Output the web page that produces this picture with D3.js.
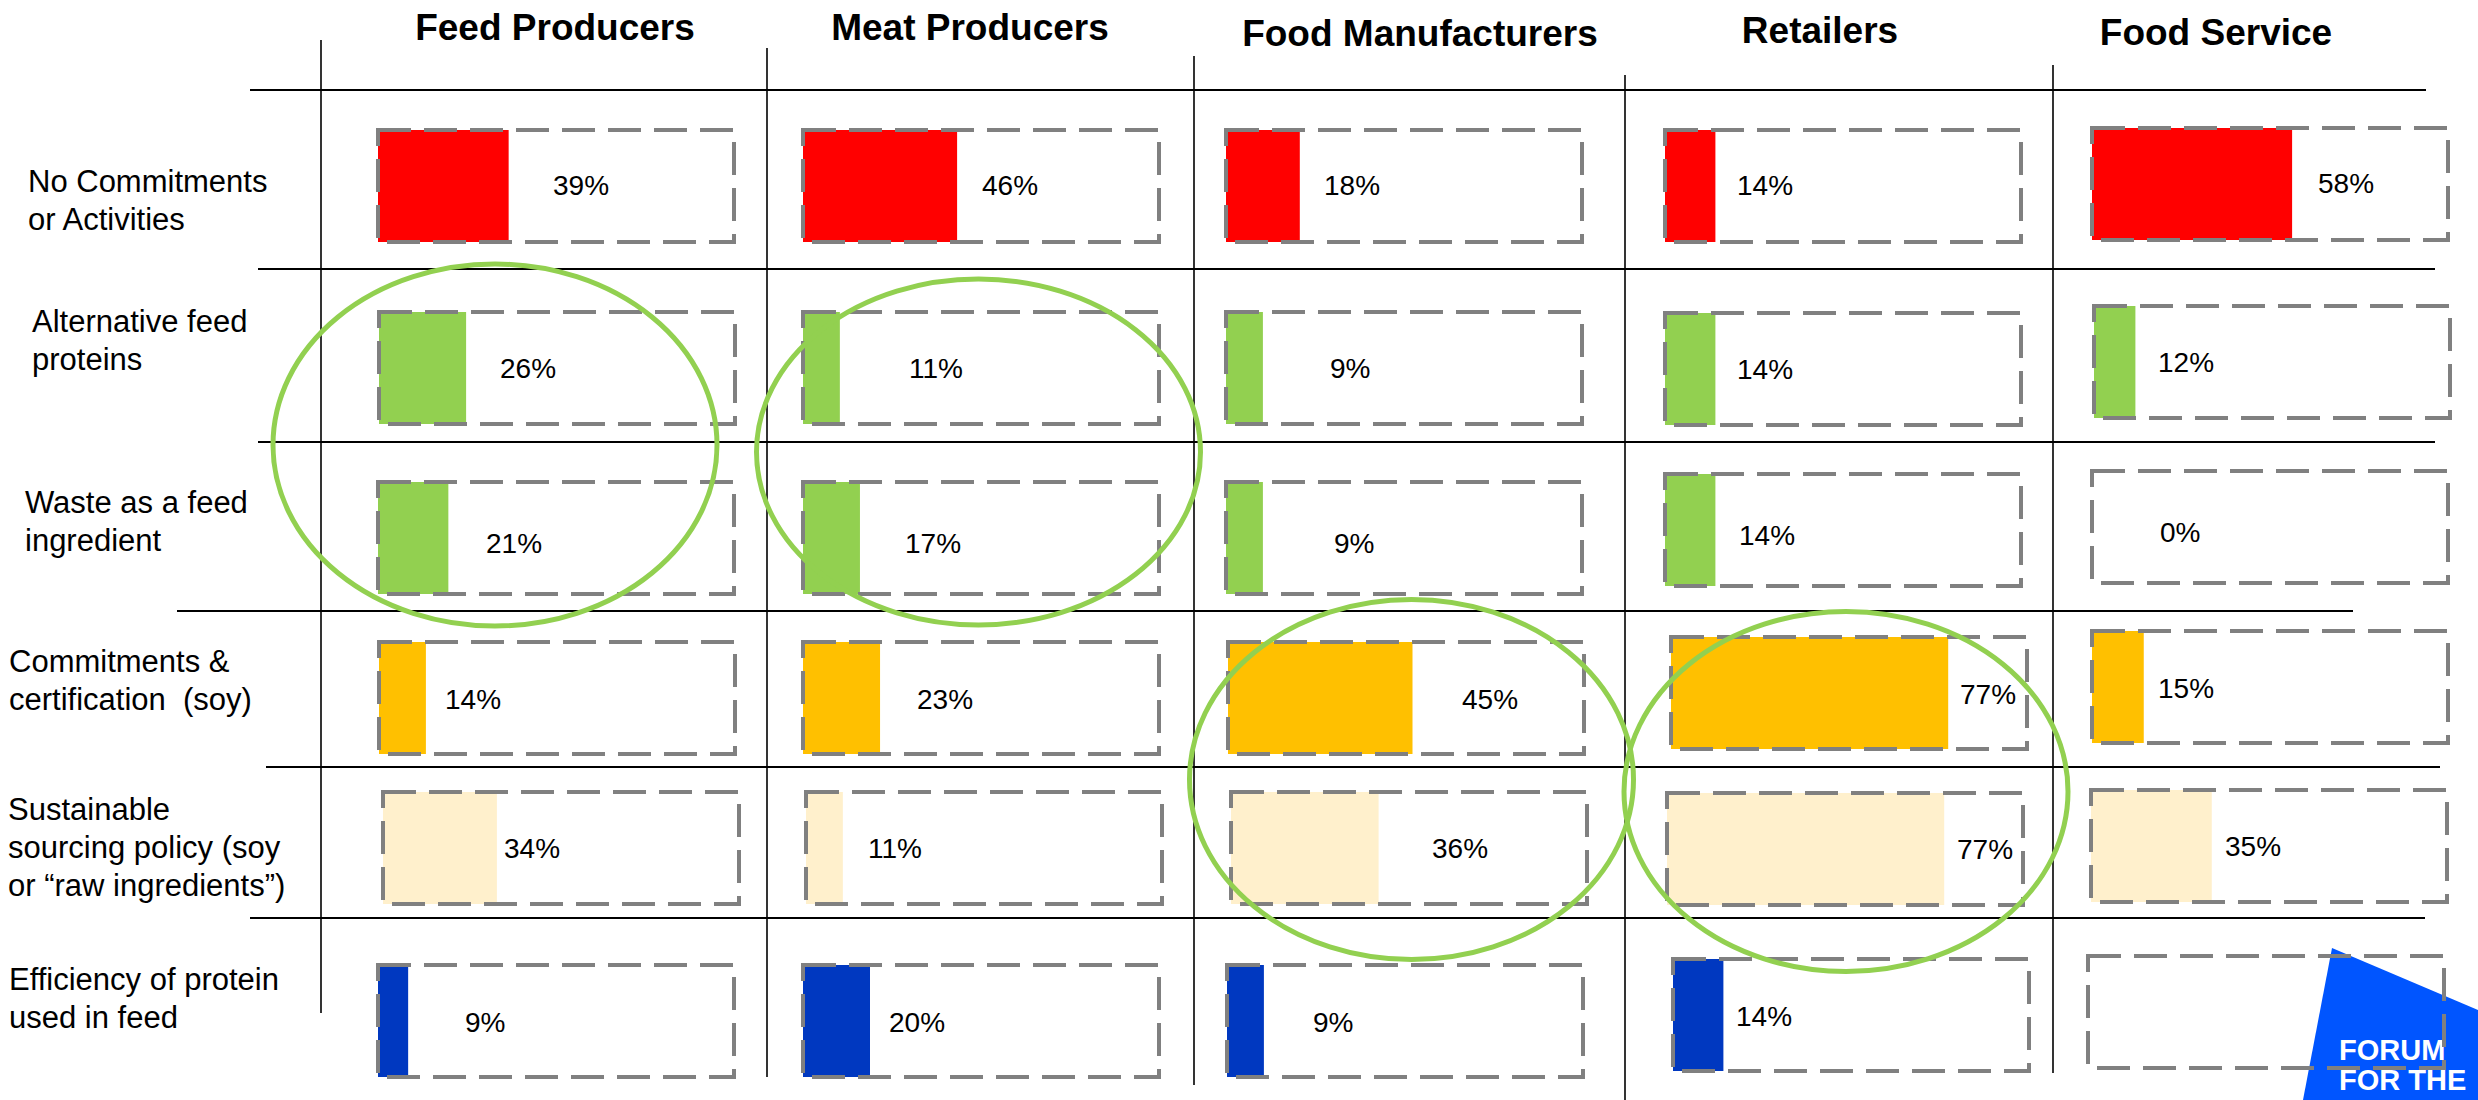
<!DOCTYPE html>
<html>
<head>
<meta charset="utf-8">
<script src="https://cdn.jsdelivr.net/npm/d3@7"></script>
<style>
  html, body { margin: 0; padding: 0; background: #fff; }
  svg { display: block; font-family: Arial, "Liberation Sans", sans-serif; }
</style>
</head>
<body>
<svg width="2478" height="1100"></svg>
<script>
// columns
const groups = ['Feed Producers', 'Meat Producers', 'Food Manufacturers', 'Retailers', 'Food Service'];
// row labels, already split into lines
const measures = [
  ['No Commitments', 'or Activities'],
  ['Alternative feed', 'proteins'],
  ['Waste as a feed', 'ingredient'],
  ['Commitments &', 'certification  (soy)'],
  ['Sustainable', 'sourcing policy (soy', 'or \u201craw ingredients\u201d)'],
  ['Efficiency of protein', 'used in feed']
];
// share of companies (%), one array per row in column order
const noCommitments = [39, 46, 18, 14, 58];
const altFeedProteins = [26, 11, 9, 14, 12];
const wasteAsFeed = [21, 17, 9, 14, 0];
const soyCommitments = [14, 23, 45, 77, 15];
const sourcingPolicy = [34, 11, 36, 77, 35];
const proteinEfficiency = [9, 20, 9, 14, null];
const values = [noCommitments, altFeedProteins, wasteAsFeed, soyCommitments, sourcingPolicy, proteinEfficiency];
// circled cells: [column, first row, last row]
const highlights = [[0, 1, 2], [1, 1, 2], [2, 3, 4], [3, 3, 4]];

// ---- layout / style ----
const barColors = ['#ff0000', '#92d050', '#92d050', '#ffc000', '#fff0cc', '#0038c0'];

const colX = [321, 767, 1194, 1625, 2053];
const colTop = [40, 48, 56, 75, 65];
const colBottom = [1013, 1077, 1085, 1100, 1073];
const rowY = [90, 269, 442, 611, 767, 918];
const rowX1 = [250, 258, 258, 177, 266, 250];
const rowX2 = [2426, 2435, 2435, 2353, 2440, 2425];

const headX = [555, 970, 1420, 1820, 2216];
const headY = [40, 40, 46, 43, 45];
const labelX = [28, 32, 25, 9, 8, 9];
const labelY = [192, 332, 513, 672, 820, 990];

const boxX = [378, 803, 1226, 1666, 2091];
const boxTop = [130, 312, 482, 642, 792, 965];
const boxW = 356, boxH = 112;
const boxDx = [
  [0, 0, 0, -1, 1],
  [1, 0, 0, -1, 3],
  [0, 0, 0, -1, 1],
  [1, 0, 2, 5, 1],
  [5, 3, 5, 1, 0],
  [0, 0, 1, 7, -3]
];
const boxDy = [
  [0, 0, 0, 0, -2],
  [0, 0, 0, 1, -6],
  [0, 0, 0, -8, -11],
  [0, 0, 0, -5, -11],
  [0, 0, 0, 1, -2],
  [0, 0, 0, -6, -9]
];
const barSpan = [335, 335, 410, 360, 345];
const pctDx = [
  [175, 179, 98, 71, 227],
  [122, 106, 104, 71, 67],
  [108, 102, 108, 73, 69],
  [67, 114, 236, 294, 67],
  [126, 65, 206, 291, 134],
  [87, 86, 87, 70, 0]
];
const pctDy = [65, 66, 71, 67, 66, 67];
const ellDx = [-49, -2, 2, 7];
const ellDy = [5, 12, 15, 27];
const ellRy = [181, 173, 180, 180];
const ellRx = 222;

const svg = d3.select('svg');

// logo (under the boxes)
const logo = svg.append('g');
logo.append('path')
  .attr('d', 'M2332,948L2478,1010L2478,1100L2303,1100Z')
  .attr('fill', '#0055ff');
logo.selectAll('text')
  .data(['FORUM', 'FOR THE'])
  .join('text')
  .attr('x', 2339)
  .attr('y', (d, i) => 1060 + i * 30)
  .attr('fill', '#fff')
  .attr('font-weight', 'bold')
  .attr('font-size', 29)
  .text(d => d);

// grid rules
svg.append('g').selectAll('line')
  .data(rowY)
  .join('line')
  .attr('x1', (d, i) => rowX1[i])
  .attr('x2', (d, i) => rowX2[i])
  .attr('y1', d => d)
  .attr('y2', d => d)
  .attr('stroke', '#000')
  .attr('stroke-width', 2.2);

svg.append('g').selectAll('line')
  .data(colX)
  .join('line')
  .attr('x1', d => d)
  .attr('x2', d => d)
  .attr('y1', (d, i) => colTop[i])
  .attr('y2', (d, i) => colBottom[i])
  .attr('stroke', '#000')
  .attr('stroke-width', 1.6);

// column headers
svg.append('g').selectAll('text')
  .data(groups)
  .join('text')
  .attr('x', (d, i) => headX[i])
  .attr('y', (d, i) => headY[i])
  .attr('text-anchor', 'middle')
  .attr('font-weight', 'bold')
  .attr('font-size', 37)
  .attr('fill', '#000')
  .text(d => d);

// row labels
const rl = svg.append('g').selectAll('text')
  .data(measures)
  .join('text')
  .attr('x', (d, i) => labelX[i])
  .attr('y', (d, i) => labelY[i])
  .attr('font-size', 31)
  .attr('fill', '#000')
  .style('white-space', 'pre');
rl.selectAll('tspan')
  .data((d, i) => d.map(t => ({t, i})))
  .join('tspan')
  .attr('x', d => labelX[d.i])
  .attr('dy', (d, j) => j === 0 ? 0 : 38)
  .text(d => d.t);

// cells
const xScales = barSpan.map(w => d3.scaleLinear().domain([0, 100]).range([0, w]));
const cells = values.flatMap((row, r) => row.map((v, c) => ({r, c, v})));
const cx = d => boxX[d.c] + boxDx[d.r][d.c];
const cy = d => boxTop[d.r] + boxDy[d.r][d.c];

svg.append('g').selectAll('rect')
  .data(cells.filter(d => d.v > 0))
  .join('rect')
  .attr('x', cx)
  .attr('y', cy)
  .attr('width', d => xScales[d.c](d.v))
  .attr('height', boxH)
  .attr('fill', d => barColors[d.r]);

svg.append('g').selectAll('rect')
  .data(cells)
  .join('rect')
  .attr('x', cx)
  .attr('y', cy)
  .attr('width', boxW)
  .attr('height', boxH)
  .attr('fill', 'none')
  .attr('stroke', '#808080')
  .attr('stroke-width', 4)
  .attr('stroke-dasharray', '33 13');

svg.append('g').selectAll('text')
  .data(cells.filter(d => d.v != null))
  .join('text')
  .attr('x', d => boxX[d.c] + pctDx[d.r][d.c])
  .attr('y', d => cy(d) + pctDy[d.r])
  .attr('font-size', 28)
  .attr('fill', '#000')
  .text(d => d.v + '%');

// green highlight ellipses
svg.append('g').selectAll('ellipse')
  .data(highlights)
  .join('ellipse')
  .attr('cx', (d, i) => (colX[d[0]] + colX[d[0] + 1]) / 2 + ellDx[i])
  .attr('cy', (d, i) => (rowY[d[1]] + rowY[d[2] + 1]) / 2 + ellDy[i])
  .attr('rx', ellRx)
  .attr('ry', (d, i) => ellRy[i])
  .attr('fill', 'none')
  .attr('stroke', '#92d050')
  .attr('stroke-width', 5);
</script>
</body>
</html>
